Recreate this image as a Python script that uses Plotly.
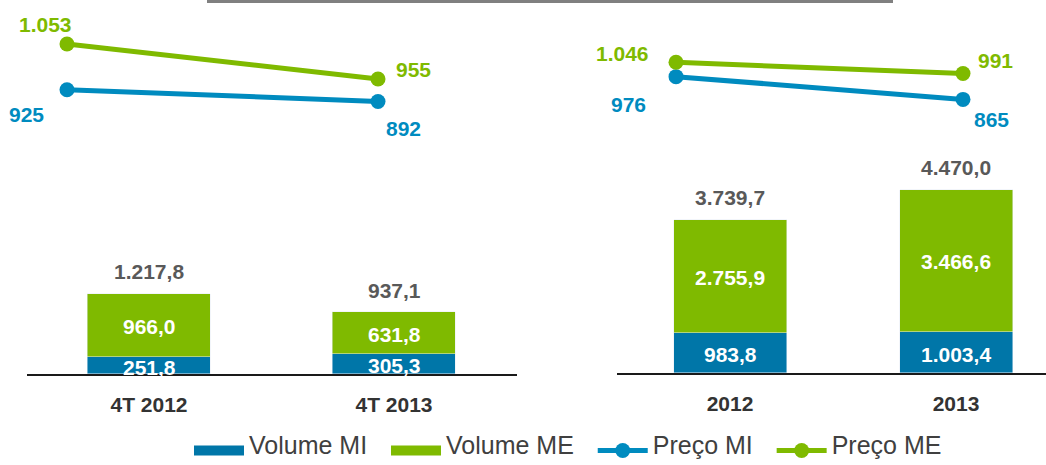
import plotly.graph_objects as go

# ---- data ----
quarters = ["4T 2012", "4T 2013"]
years = ["2012", "2013"]
vol_mi_q = [251.8, 305.3]
vol_me_q = [966.0, 631.8]
vol_total_q = [1217.8, 937.1]
vol_mi_y = [983.8, 1003.4]
vol_me_y = [2755.9, 3466.6]
vol_total_y = [3739.7, 4470.0]
preco_mi_q = [925, 892]
preco_me_q = [1053, 955]
preco_mi_y = [976, 865]
preco_me_y = [1046, 991]
legend_names = ["Volume MI", "Volume ME", "Preço MI", "Preço ME"]

def fmt(v, dec=1):
    s = f"{v:,.{dec}f}"
    return s.replace(",", "X").replace(".", ",").replace("X", ".")

def fmt_int(v):
    return f"{v:,}".replace(",", ".")

BLUE_BAR = "#0076A8"
GREEN = "#7FBA00"
BLUE_LINE = "#008BBF"
TOTAL_C = "#595959"
CAT_C = "#333333"
FONT = "Liberation Sans, Arial, sans-serif"
NB = "\u00a0"

W, H = 1046, 465

def lname(s, pad=0):
    return f'<span style="font-size:25px">{s}{NB * pad}</span>'

fig = go.Figure()

# legend-only swatches for the volume series
fig.add_trace(go.Scatter(x=[None], y=[None], mode="lines", name=lname(legend_names[0], 2),
                         line=dict(color=BLUE_BAR, width=13), legendgroup="vmi",
                         xaxis="x", yaxis="y"))
fig.add_trace(go.Scatter(x=[None], y=[None], mode="lines", name=lname(legend_names[1], 2),
                         line=dict(color=GREEN, width=13), legendgroup="vme",
                         xaxis="x", yaxis="y"))

# bars - left panel (quarters)
fig.add_trace(go.Bar(x=quarters, y=vol_mi_q, marker_color=BLUE_BAR, width=0.5,
                     showlegend=False, legendgroup="vmi", xaxis="x", yaxis="y"))
fig.add_trace(go.Bar(x=quarters, y=vol_me_q, marker_color=GREEN, width=0.5,
                     showlegend=False, legendgroup="vme", xaxis="x", yaxis="y"))
# bars - right panel (years)
fig.add_trace(go.Bar(x=years, y=vol_mi_y, marker_color=BLUE_BAR, width=0.5,
                     showlegend=False, legendgroup="vmi", xaxis="x2", yaxis="y3"))
fig.add_trace(go.Bar(x=years, y=vol_me_y, marker_color=GREEN, width=0.5,
                     showlegend=False, legendgroup="vme", xaxis="x2", yaxis="y3"))

# price lines
mk = dict(size=15)
fig.add_trace(go.Scatter(x=quarters, y=preco_mi_q, mode="lines+markers", name=lname(legend_names[2], 2),
                         line=dict(color=BLUE_LINE, width=5), marker=dict(color=BLUE_LINE, **mk),
                         legendgroup="pmi", xaxis="x3", yaxis="y2"))
fig.add_trace(go.Scatter(x=quarters, y=preco_me_q, mode="lines+markers", name=lname(legend_names[3], 0),
                         line=dict(color=GREEN, width=5), marker=dict(color=GREEN, **mk),
                         legendgroup="pme", xaxis="x3", yaxis="y2"))
fig.add_trace(go.Scatter(x=years, y=preco_mi_y, mode="lines+markers", name=legend_names[2],
                         line=dict(color=BLUE_LINE, width=5), marker=dict(color=BLUE_LINE, **mk),
                         legendgroup="pmi", showlegend=False, xaxis="x4", yaxis="y4"))
fig.add_trace(go.Scatter(x=years, y=preco_me_y, mode="lines+markers", name=legend_names[3],
                         line=dict(color=GREEN, width=5), marker=dict(color=GREEN, **mk),
                         legendgroup="pme", showlegend=False, xaxis="x4", yaxis="y4"))

ann = []
lab_font = dict(family=FONT, size=21, weight="bold")

def add_label(x, y, text, color, xref, yref, dx=0, dy=0):
    ann.append(dict(x=x, y=y, xref=xref, yref=yref, text=text, showarrow=False,
                    font=dict(color=color, **lab_font), xshift=dx, yshift=dy,
                    xanchor="center", yanchor="middle"))

# bar labels (x given as category index)
for cats, mi, me, tot, xr, yr in [(quarters, vol_mi_q, vol_me_q, vol_total_q, "x", "y"),
                                  (years, vol_mi_y, vol_me_y, vol_total_y, "x2", "y3")]:
    for i, (a, b, t) in enumerate(zip(mi, me, tot)):
        add_label(i, a / 2, fmt(a), "white", xr, yr, dy=-2)
        add_label(i, a + b / 2, fmt(b), "white", xr, yr, dy=-1)
        add_label(i, t, fmt(t), TOTAL_C, xr, yr, dy=22)

# price labels
shifts_me_q = [(-21, 19.5), (35, 9.5)]
shifts_mi_q = [(-40, -25), (25, -27.5)]
shifts_me_y = [(-54, 8.5), (32.5, 13)]
shifts_mi_y = [(-47.5, -28), (28.5, -20)]
for vals, sh, col, xr, yr in [
        (preco_me_q, shifts_me_q, GREEN, "x3", "y2"),
        (preco_mi_q, shifts_mi_q, BLUE_LINE, "x3", "y2"),
        (preco_me_y, shifts_me_y, GREEN, "x4", "y4"),
        (preco_mi_y, shifts_mi_y, BLUE_LINE, "x4", "y4")]:
    for i, (v, (dx, dy)) in enumerate(zip(vals, sh)):
        add_label(i, v, fmt_int(v), col, xr, yr, dx, dy)

# axes geometry (pixel-derived)
left_scale = 0.0657   # px per unit (left bars)
right_scale = 0.041   # px per unit (right bars)
left_base = 374
right_base = 373

xcat = dict(type="category", showgrid=False, zeroline=False, ticks="",
            tickfont=dict(family=FONT, size=21, color=CAT_C, weight="bold"),
            showline=True, linecolor="#1a1a1a", linewidth=2, fixedrange=True)
hidden = dict(visible=False, showgrid=False, zeroline=False, fixedrange=True)

fig.update_layout(
    width=W, height=H, margin=dict(l=0, r=0, t=0, b=0),
    paper_bgcolor="white", plot_bgcolor="rgba(0,0,0,0)",
    barmode="stack", bargap=0,
    font=dict(family=FONT),
    xaxis=dict(domain=[26.5 / W, 516.5 / W], range=[-0.5, 1.5], anchor="y", **xcat,
               ticklabelstandoff=11),
    yaxis=dict(domain=[(H - left_base) / H, 1], range=[0, left_base / left_scale],
               anchor="x", **hidden),
    xaxis2=dict(domain=[617 / W, 1], range=[-0.5, 1.398], anchor="y3", **xcat,
                ticklabelstandoff=11),
    yaxis3=dict(domain=[(H - right_base) / H, 1], range=[0, right_base / right_scale],
                anchor="x2", **hidden),
    xaxis3=dict(domain=[0, 520 / W], range=[-0.2154, 1.4566], type="category",
                anchor="y2", **hidden),
    yaxis2=dict(domain=[0, 1], range=[-126.3, 1176.2], anchor="x3", **hidden),
    xaxis4=dict(domain=[520 / W, 1], range=[-0.5436, 1.2892], type="category",
                anchor="y4", **hidden),
    yaxis4=dict(domain=[0, 1], range=[-918.4, 1349.9], anchor="x4", **hidden),
    showlegend=True,
    legend=dict(orientation="h", x=189 / W, xanchor="left", y=0.0, yanchor="bottom",
                font=dict(family=FONT, size=10, color="#404040"),
                itemwidth=50, traceorder="normal", bgcolor="rgba(0,0,0,0)"),
    annotations=ann,
    shapes=[dict(type="line", xref="paper", yref="paper", x0=207 / W, x1=893 / W,
                 y0=1 - 1.5 / H, y1=1 - 1.5 / H, line=dict(color="#808080", width=3))],
)

fig.write_html("out.html", config={"displayModeBar": False},
               post_script="document.body.style.margin='0';")
